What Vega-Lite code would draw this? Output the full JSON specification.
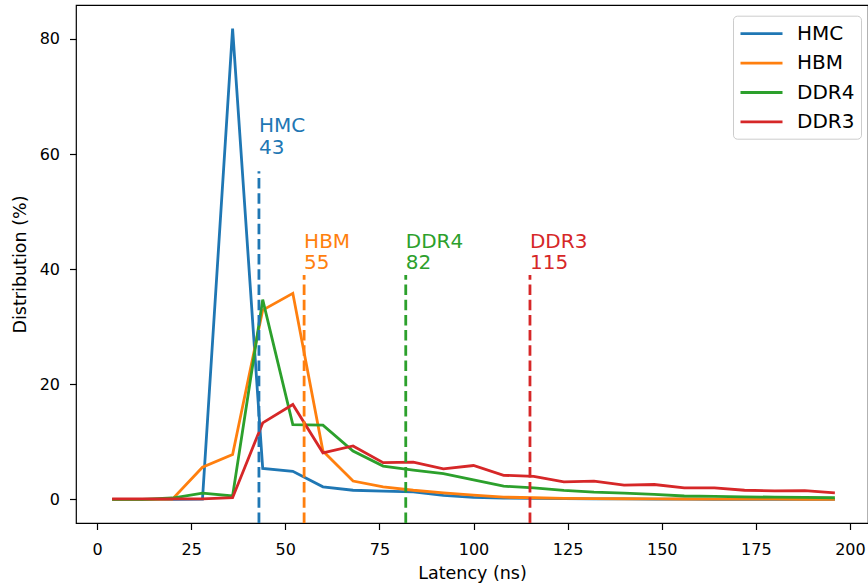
{
  "$schema": "https://vega.github.io/schema/vega-lite/v6.json",
  "autosize": {"type": "none"},
  "padding": {"left": 76, "top": 5, "right": 0, "bottom": 61},
  "width": 792,
  "height": 518,
  "background": "white",
  "config": {
    "font": "DejaVu Sans",
    "view": {"stroke": "black", "strokeWidth": 1.2},
    "axis": {
      "grid": false,
      "domain": false,
      "labelFont": "DejaVu Sans",
      "titleFont": "DejaVu Sans",
      "labelFontSize": 16,
      "titleFontSize": 17.5,
      "titleFontWeight": "normal",
      "labelColor": "black",
      "titleColor": "black",
      "tickColor": "black",
      "tickWidth": 1.2,
      "tickSize": 6.5
    },
    "legend": {
      "orient": "none",
      "legendX": 657,
      "legendY": 10.7,
      "title": null,
      "symbolType": "M-1,0L3,0",
      "symbolSize": 441,
      "symbolStrokeWidth": 2.8,
      "labelFontSize": 20,
      "labelFont": "DejaVu Sans",
      "labelColor": "black",
      "labelOffset": 34,
      "padding": 6,
      "rowPadding": 7.4,
      "fillColor": "rgba(255,255,255,0.8)",
      "strokeColor": "#cccccc",
      "cornerRadius": 4
    }
  },
  "datasets": {
    "dist": [
      {"series": "HMC", "latency": 4, "pct": 0.0},
      {"series": "HMC", "latency": 12, "pct": 0.0},
      {"series": "HMC", "latency": 20, "pct": 0.0},
      {"series": "HMC", "latency": 28, "pct": 0.05},
      {"series": "HMC", "latency": 36, "pct": 81.8},
      {"series": "HMC", "latency": 44, "pct": 5.4},
      {"series": "HMC", "latency": 52, "pct": 4.9},
      {"series": "HMC", "latency": 60, "pct": 2.2},
      {"series": "HMC", "latency": 68, "pct": 1.6},
      {"series": "HMC", "latency": 76, "pct": 1.45},
      {"series": "HMC", "latency": 84, "pct": 1.3},
      {"series": "HMC", "latency": 92, "pct": 0.7},
      {"series": "HMC", "latency": 100, "pct": 0.35},
      {"series": "HMC", "latency": 108, "pct": 0.25},
      {"series": "HMC", "latency": 116, "pct": 0.2},
      {"series": "HMC", "latency": 124, "pct": 0.15},
      {"series": "HMC", "latency": 132, "pct": 0.1},
      {"series": "HMC", "latency": 140, "pct": 0.1},
      {"series": "HMC", "latency": 148, "pct": 0.05},
      {"series": "HMC", "latency": 156, "pct": 0.05},
      {"series": "HMC", "latency": 164, "pct": 0.03},
      {"series": "HMC", "latency": 172, "pct": 0.02},
      {"series": "HMC", "latency": 180, "pct": 0.02},
      {"series": "HMC", "latency": 188, "pct": 0.01},
      {"series": "HMC", "latency": 196, "pct": 0.01},
      {"series": "HBM", "latency": 4, "pct": 0.0},
      {"series": "HBM", "latency": 12, "pct": 0.0},
      {"series": "HBM", "latency": 20, "pct": 0.05},
      {"series": "HBM", "latency": 28, "pct": 5.6},
      {"series": "HBM", "latency": 36, "pct": 7.8},
      {"series": "HBM", "latency": 44, "pct": 32.9},
      {"series": "HBM", "latency": 52, "pct": 35.8},
      {"series": "HBM", "latency": 60, "pct": 8.4},
      {"series": "HBM", "latency": 68, "pct": 3.2},
      {"series": "HBM", "latency": 76, "pct": 2.2},
      {"series": "HBM", "latency": 84, "pct": 1.6},
      {"series": "HBM", "latency": 92, "pct": 1.15},
      {"series": "HBM", "latency": 100, "pct": 0.75},
      {"series": "HBM", "latency": 108, "pct": 0.4},
      {"series": "HBM", "latency": 116, "pct": 0.3},
      {"series": "HBM", "latency": 124, "pct": 0.2},
      {"series": "HBM", "latency": 132, "pct": 0.15},
      {"series": "HBM", "latency": 140, "pct": 0.12},
      {"series": "HBM", "latency": 148, "pct": 0.1},
      {"series": "HBM", "latency": 156, "pct": 0.08},
      {"series": "HBM", "latency": 164, "pct": 0.06},
      {"series": "HBM", "latency": 172, "pct": 0.05},
      {"series": "HBM", "latency": 180, "pct": 0.04},
      {"series": "HBM", "latency": 188, "pct": 0.03},
      {"series": "HBM", "latency": 196, "pct": 0.03},
      {"series": "DDR4", "latency": 4, "pct": 0.0},
      {"series": "DDR4", "latency": 12, "pct": 0.0},
      {"series": "DDR4", "latency": 20, "pct": 0.25},
      {"series": "DDR4", "latency": 28, "pct": 1.1},
      {"series": "DDR4", "latency": 36, "pct": 0.6},
      {"series": "DDR4", "latency": 44, "pct": 34.7},
      {"series": "DDR4", "latency": 52, "pct": 13.0},
      {"series": "DDR4", "latency": 60, "pct": 12.9},
      {"series": "DDR4", "latency": 68, "pct": 8.4},
      {"series": "DDR4", "latency": 76, "pct": 5.8},
      {"series": "DDR4", "latency": 84, "pct": 5.1},
      {"series": "DDR4", "latency": 92, "pct": 4.5},
      {"series": "DDR4", "latency": 100, "pct": 3.4},
      {"series": "DDR4", "latency": 108, "pct": 2.3},
      {"series": "DDR4", "latency": 116, "pct": 2.0},
      {"series": "DDR4", "latency": 124, "pct": 1.56},
      {"series": "DDR4", "latency": 132, "pct": 1.27},
      {"series": "DDR4", "latency": 140, "pct": 1.1},
      {"series": "DDR4", "latency": 148, "pct": 0.87},
      {"series": "DDR4", "latency": 156, "pct": 0.6},
      {"series": "DDR4", "latency": 164, "pct": 0.55},
      {"series": "DDR4", "latency": 172, "pct": 0.46},
      {"series": "DDR4", "latency": 180, "pct": 0.4},
      {"series": "DDR4", "latency": 188, "pct": 0.35},
      {"series": "DDR4", "latency": 196, "pct": 0.3},
      {"series": "DDR3", "latency": 4, "pct": 0.1},
      {"series": "DDR3", "latency": 12, "pct": 0.1},
      {"series": "DDR3", "latency": 20, "pct": 0.1},
      {"series": "DDR3", "latency": 28, "pct": 0.1},
      {"series": "DDR3", "latency": 36, "pct": 0.3},
      {"series": "DDR3", "latency": 44, "pct": 13.3},
      {"series": "DDR3", "latency": 52, "pct": 16.5},
      {"series": "DDR3", "latency": 60, "pct": 8.1},
      {"series": "DDR3", "latency": 68, "pct": 9.3},
      {"series": "DDR3", "latency": 76, "pct": 6.4},
      {"series": "DDR3", "latency": 84, "pct": 6.5},
      {"series": "DDR3", "latency": 92, "pct": 5.3},
      {"series": "DDR3", "latency": 100, "pct": 5.9},
      {"series": "DDR3", "latency": 108, "pct": 4.2},
      {"series": "DDR3", "latency": 116, "pct": 4.0},
      {"series": "DDR3", "latency": 124, "pct": 3.07},
      {"series": "DDR3", "latency": 132, "pct": 3.2},
      {"series": "DDR3", "latency": 140, "pct": 2.5},
      {"series": "DDR3", "latency": 148, "pct": 2.6},
      {"series": "DDR3", "latency": 156, "pct": 2.0},
      {"series": "DDR3", "latency": 164, "pct": 2.0},
      {"series": "DDR3", "latency": 172, "pct": 1.6},
      {"series": "DDR3", "latency": 180, "pct": 1.5},
      {"series": "DDR3", "latency": 188, "pct": 1.55},
      {"series": "DDR3", "latency": 196, "pct": 1.15}
    ],
    "marks": [
      {"series": "HMC", "latency": 43, "bottom": -4.09, "top": 57, "labelY": 60, "label": "HMC\n43"},
      {"series": "HBM", "latency": 55, "bottom": -4.09, "top": 39, "labelY": 40, "label": "HBM\n55"},
      {"series": "DDR4", "latency": 82, "bottom": -4.09, "top": 39, "labelY": 40, "label": "DDR4\n82"},
      {"series": "DDR3", "latency": 115, "bottom": -4.09, "top": 39, "labelY": 40, "label": "DDR3\n115"}
    ]
  },
  "layer": [
    {
      "data": {"name": "dist"},
      "mark": {"type": "line", "strokeWidth": 2.8, "clip": true},
      "encoding": {
        "x": {
          "field": "latency", "type": "quantitative",
          "scale": {"domain": [-5.6, 204.8], "nice": false, "zero": false},
          "axis": {"values": [0, 25, 50, 75, 100, 125, 150, 175, 200], "title": "Latency (ns)", "labelPadding": 12, "titlePadding": 7, "labelFlush": false}
        },
        "y": {
          "field": "pct", "type": "quantitative",
          "scale": {"domain": [-4.09, 85.89], "nice": false, "zero": false},
          "axis": {"values": [0, 20, 40, 60, 80], "title": "Distribution (%)", "labelPadding": 10, "titlePadding": 10}
        },
        "color": {
          "field": "series", "type": "nominal",
          "scale": {"domain": ["HMC", "HBM", "DDR4", "DDR3"], "range": ["#1f77b4", "#ff7f0e", "#2ca02c", "#d62728"]},
          "legend": {}
        },
        "detail": {"field": "series"}
      }
    },
    {
      "data": {"name": "marks"},
      "mark": {"type": "rule", "strokeWidth": 2.8, "strokeDash": [10.5, 4.7]},
      "encoding": {
        "x": {"field": "latency", "type": "quantitative"},
        "y": {"field": "bottom", "type": "quantitative"},
        "y2": {"field": "top"},
        "color": {"field": "series", "type": "nominal", "legend": null}
      }
    },
    {
      "data": {"name": "marks"},
      "mark": {"type": "text", "align": "left", "baseline": "alphabetic", "fontSize": 20, "lineBreak": "\n", "lineHeight": 21.6, "dy": -21.6},
      "encoding": {
        "x": {"field": "latency", "type": "quantitative"},
        "y": {"field": "labelY", "type": "quantitative"},
        "text": {"field": "label"},
        "color": {"field": "series", "type": "nominal", "legend": null}
      }
    }
  ]
}
